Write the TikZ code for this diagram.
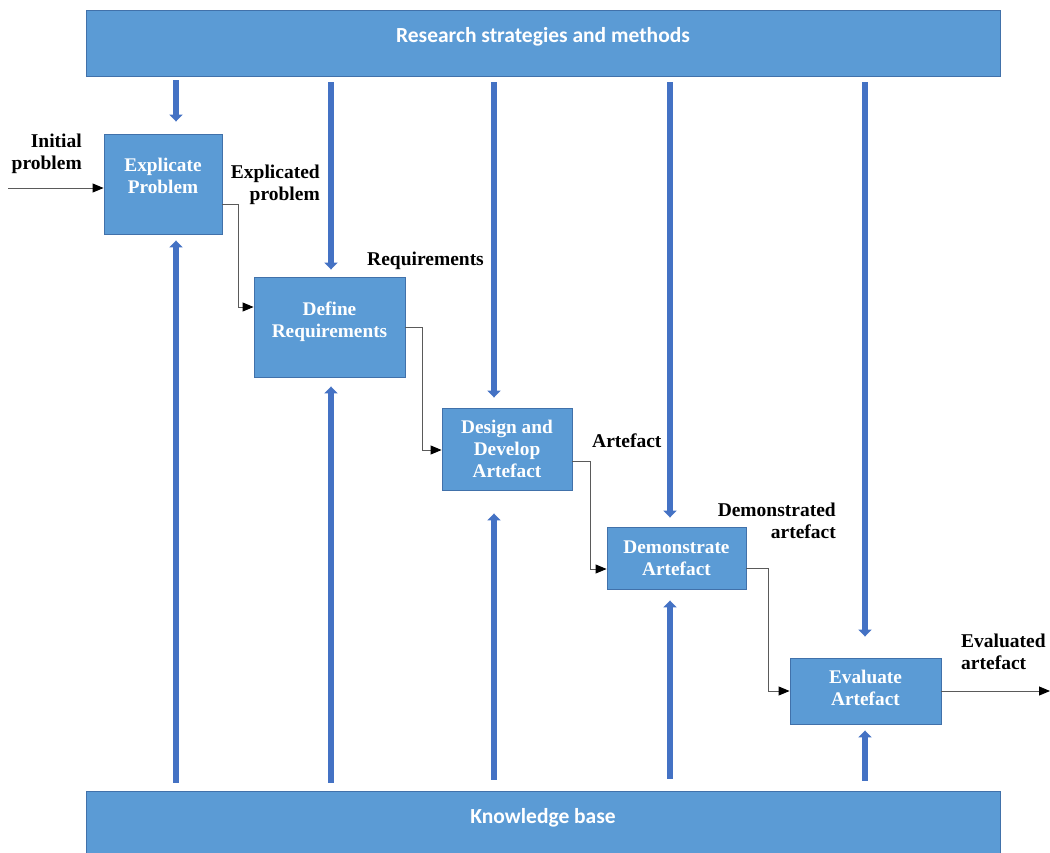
\documentclass[tikz,border=0pt]{standalone}
\usepackage{fontspec}
\setmainfont{Liberation Serif}
\newfontfamily\barfont{Carlito}
\usetikzlibrary{arrows.meta}
\definecolor{boxblue}{RGB}{91,155,213}
\definecolor{boxedge}{RGB}{65,113,170}
\definecolor{shaft}{RGB}{68,114,196}
\definecolor{wire}{RGB}{90,90,90}
\begin{document}
\begin{tikzpicture}[x=1pt,y=-1pt,
  bar/.style={draw=boxedge, fill=boxblue, line width=0.9pt, inner sep=0pt},
  bartext/.style={text=white, font=\barfont\bfseries\fontsize{21.5}{25}\selectfont, inner sep=0pt},
  stage/.style={draw=boxedge, fill=boxblue, line width=0.9pt, text=white, align=center,
    font=\bfseries\fontsize{19.3}{22}\selectfont, inner sep=0pt},
  lbl/.style={text=black, font=\bfseries\fontsize{19.5}{22.5}\selectfont, inner sep=0pt},
  big/.style={draw=shaft, line width=5.8pt, -{Triangle[width=13pt,length=7pt,color=shaft]}},
  flow/.style={draw=wire, line width=0.9pt, -{Triangle[width=9pt,length=11pt,color=black]}}]

\clip (0,0) rectangle (1050,852);

% bars for research methods and knowledge base
\node[bar, minimum width=914pt, minimum height=66pt] (top) at (543,43) {};
\node[bartext] (toptext) at (543,37) {Research strategies and methods};
\node[bar, minimum width=914pt, minimum height=66pt] (kb) at (543,824) {};
\node[bartext] (kbtext) at (543,818) {Knowledge base};

% the five stages
\node[stage, minimum width=118pt, minimum height=100pt, text depth=16pt] (ep) at (163,184) {Explicate\\Problem};
\node[stage, minimum width=151pt, minimum height=100pt, text depth=14pt] (dr) at (329.5,327) {Define\\Requirements};
\node[stage, minimum width=130pt, minimum height=82pt] (dd) at (507,449) {Design and\\Develop\\Artefact};
\node[stage, minimum width=139pt, minimum height=62pt] (da) at (676.5,558) {Demonstrate\\Artefact};
\node[stage, minimum width=151pt, minimum height=66pt, text depth=6pt] (ea) at (865.5,691) {Evaluate\\Artefact};

% columns of the vertical arrows
\coordinate (c1) at (176,0);
\coordinate (c2) at (331,0);
\coordinate (c3) at (494,0);
\coordinate (c4) at (670,0);
\coordinate (c5) at (865,0);

% arrows from the research methods bar
\draw[big, shorten <=4pt, shorten >=12pt] (top.south -| c1) -- (ep.north -| c1);
\draw[big, shorten <=6pt, shorten >=7pt] (top.south -| c2) -- (dr.north -| c2);
\draw[big, shorten <=6pt, shorten >=10pt] (top.south -| c3) -- (dd.north -| c3);
\draw[big, shorten <=6pt, shorten >=9pt] (top.south -| c4) -- (da.north -| c4);
\draw[big, shorten <=6pt, shorten >=21pt] (top.south -| c5) -- (ea.north -| c5);

% arrows from the knowledge base
\draw[big, shorten <=8pt, shorten >=6pt] (kb.north -| c1) -- (ep.south -| c1);
\draw[big, shorten <=8pt, shorten >=9pt] (kb.north -| c2) -- (dr.south -| c2);
\draw[big, shorten <=11pt, shorten >=23pt] (kb.north -| c3) -- (dd.south -| c3);
\draw[big, shorten <=12pt, shorten >=11pt] (kb.north -| c4) -- (da.south -| c4);
\draw[big, shorten <=10pt, shorten >=6pt] (kb.north -| c5) -- (ea.south -| c5);

% flow between the stages
\coordinate (in) at (8,188);
\coordinate (out) at (1050,691);
\draw[flow] (in) -- (ep.west |- in);
\draw[flow] ([yshift=-20pt]ep.east) -- ++(16,0) |- ([yshift=20pt]dr.west);
\draw[flow] (dr.east) -- ++(17,0) |- ([yshift=-1pt]dd.west);
\draw[flow] ([yshift=-12pt]dd.east) -- ++(18,0) |- ([yshift=-11pt]da.west);
\draw[flow] ([yshift=-10pt]da.east) -- ++(22,0) |- (ea.west);
\draw[flow] (ea.east) -- (out);

% labels on the flow
\node[lbl, align=right, anchor=east] (l1) at (82,154) {Initial\\problem};
\node[lbl, align=right, anchor=east] (l2) at (320,185) {Explicated\\problem};
\node[lbl, anchor=west] (l3) at (367,261) {Requirements};
\node[lbl, anchor=west] (l4) at (592,441) {Artefact};
\node[lbl, align=right, anchor=east] (l5) at (836,521) {Demonstrated\\artefact};
\node[lbl, align=left, anchor=west] (l6) at (961,652) {Evaluated\\artefact};
\end{tikzpicture}
\end{document}
